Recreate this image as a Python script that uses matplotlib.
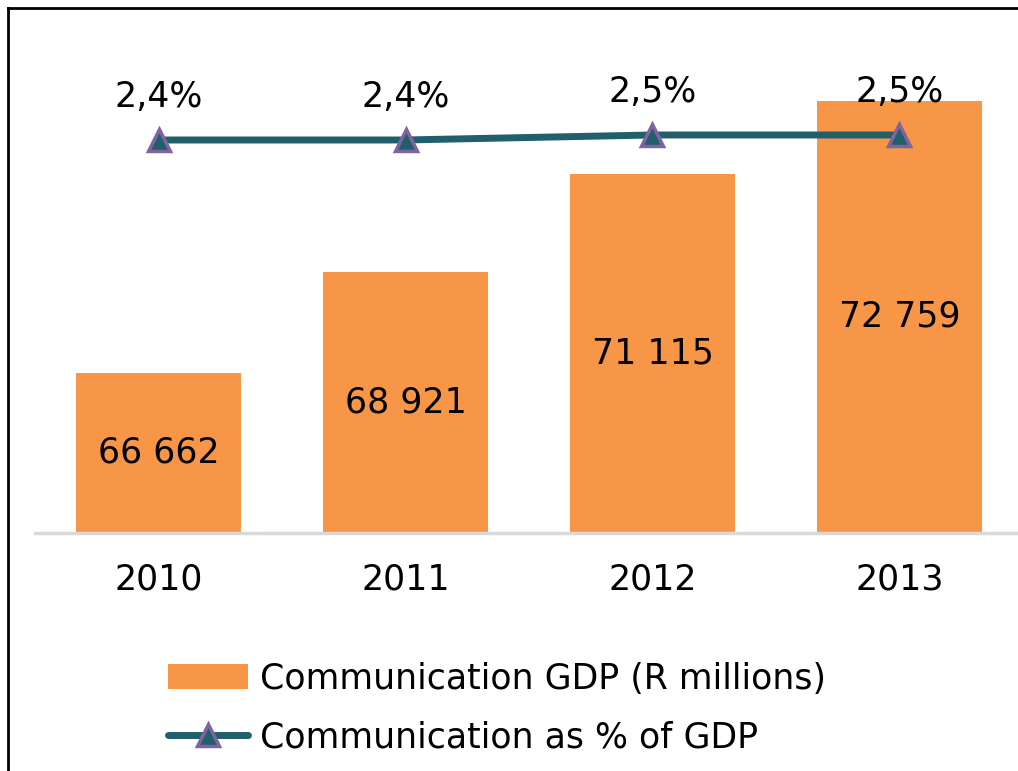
import numpy as np
import matplotlib.pyplot as plt
from matplotlib.lines import Line2D

# datos
anios = ["2010", "2011", "2012", "2013"]
pib_com = [66662, 68921, 71115, 72759]          # R millones
pct_pib = [2.4, 2.4, 2.5, 2.5]                   # % del PIB
etiq_barras = ["66 662", "68 921", "71 115", "72 759"]
etiq_pct = ["2,4%", "2,4%", "2,5%", "2,5%"]

naranja = "#F79646"
verde = "#215F6B"
morado = "#8064A2"

plt.rcParams['font.family'] = ['DejaVu Sans']
fs = 25

fig = plt.figure(figsize=(10.18, 7.71), dpi=100)
ax1 = fig.add_axes([0.0344, 0.3087, 0.9705, 0.6135])
ax2 = ax1.twinx()

x = np.arange(len(anios))
barras = ax1.bar(x, pib_com, width=0.668, color=naranja,
                 label="Communication GDP (R millions)", zorder=2)
ax1.bar_label(barras, labels=etiq_barras, label_type='center', fontsize=fs)

linea, = ax2.plot(x, pct_pib, color=verde, lw=5, solid_capstyle='round',
                  marker='^', markersize=16, markerfacecolor=verde,
                  markeredgecolor=morado, markeredgewidth=2.5,
                  label="Communication as % of GDP")
for xi, yi, t in zip(x, pct_pib, etiq_pct):
    ax2.annotate(t, (xi, yi), xytext=(0, 31), textcoords='offset points',
                 ha='center', va='center', fontsize=fs)

ax1.set_xlim(-0.5, 3.5)
ax1.set_ylim(63075, 73678)
ax2.set_ylim(-5.46, 4.0)

ax1.set_xticks(x)
ax1.set_xticklabels(anios, fontsize=fs)
ax1.tick_params(axis='x', length=0, pad=21)
ax1.set_yticks([])
ax2.set_yticks([])
for ax in (ax1, ax2):
    for s in ['top', 'right', 'left', 'bottom']:
        ax.spines[s].set_visible(False)
ax1.spines['bottom'].set_visible(True)
ax1.spines['bottom'].set_color('#D9D9D9')
ax1.spines['bottom'].set_linewidth(2.5)

fig.legend(handles=[barras, linea], loc='upper left',
           bbox_to_anchor=(0.165, 0.142), bbox_transform=fig.transFigure,
           frameon=False, fontsize=fs, handlelength=2.3, handletextpad=0.35,
           labelspacing=0.72, borderaxespad=0, borderpad=0)

# marco
fig.add_artist(Line2D([0.008, 0.008], [0, 0.99], color='black', lw=2,
                      transform=fig.transFigure))
fig.add_artist(Line2D([0.008, 1.0], [0.99, 0.99], color='black', lw=2,
                      transform=fig.transFigure))

plt.savefig('out.png')
